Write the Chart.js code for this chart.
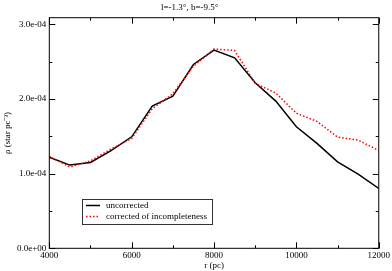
<!DOCTYPE html>
<html>
<head>
<meta charset="utf-8">
<script src="https://cdn.jsdelivr.net/npm/chart.js@4/dist/chart.umd.min.js"></script>
<style>
    html, body { margin: 0; padding: 0; background: #fff; }
    #wrap { width: 392px; height: 271px; }
</style>
</head>
<body>
<div id="wrap"><canvas id="densityChart" width="392" height="271"></canvas></div>
<script>
// distance along line of sight (pc)
const radius = [4000, 4500, 5000, 5500, 6000, 6500, 7000, 7500, 8000, 8500, 9000, 9500, 10000, 10500, 11000, 11500, 12000];
const uncorrected = [1.22e-4, 1.115e-4, 1.15e-4, 1.31e-4, 1.494e-4, 1.905e-4, 2.04e-4, 2.463e-4, 2.655e-4, 2.552e-4, 2.217e-4, 1.972e-4, 1.628e-4, 1.406e-4, 1.159e-4, 0.995e-4, 0.803e-4];
const corrected = [1.23e-4, 1.09e-4, 1.17e-4, 1.33e-4, 1.47e-4, 1.87e-4, 2.07e-4, 2.44e-4, 2.67e-4, 2.65e-4, 2.21e-4, 2.08e-4, 1.81e-4, 1.70e-4, 1.49e-4, 1.45e-4, 1.31e-4];

const xTicks = [4000, 6000, 8000, 10000, 12000];
const xMinorTicks = [5000, 7000, 9000, 11000];
const yTicks = [0, 1e-4, 2e-4, 3e-4];
const yMinorTicks = [0.5e-4, 1.5e-4, 2.5e-4];

const serif = "'Liberation Serif', 'Times New Roman', serif";

function sciLabel(v) {
    if (v === 0) return '0.0e+00';
    const exp = Math.floor(Math.log10(Math.abs(v)) + 1e-9);
    const mant = v / Math.pow(10, exp);
    const sign = exp < 0 ? '-' : '+';
    const e = String(Math.abs(exp)).padStart(2, '0');
    return mant.toFixed(1) + 'e' + sign + e;
}

// frame, inward ticks and the boxed legend
const framePlugin = {
    id: 'frame',
    afterDraw(chart) {
        const ctx = chart.ctx;
        const a = chart.chartArea;
        const xs = chart.scales.x, ys = chart.scales.y;
        ctx.save();
        ctx.strokeStyle = '#000';
        ctx.lineWidth = 1;
        ctx.strokeRect(a.left, a.top, a.right - a.left, a.bottom - a.top);
        ctx.beginPath();
        const tickX = (vals, len) => vals.forEach(v => {
            const px = Math.round(xs.getPixelForValue(v)) + 0.5;
            ctx.moveTo(px, a.bottom); ctx.lineTo(px, a.bottom - len);
            ctx.moveTo(px, a.top); ctx.lineTo(px, a.top + len);
        });
        const tickY = (vals, len) => vals.forEach(v => {
            const py = Math.round(ys.getPixelForValue(v)) + 0.5;
            ctx.moveTo(a.left, py); ctx.lineTo(a.left + len, py);
            ctx.moveTo(a.right, py); ctx.lineTo(a.right - len, py);
        });
        tickX(xTicks, 6); tickX(xMinorTicks, 3);
        tickY(yTicks, 6); tickY(yMinorTicks, 3);
        ctx.stroke();

        // legend
        const bx = 82.5, by = 199.5, bw = 130, bh = 25;
        ctx.fillStyle = '#fff';
        ctx.fillRect(bx, by, bw, bh);
        ctx.strokeStyle = '#333';
        ctx.strokeRect(bx, by, bw, bh);
        ctx.font = '9px ' + serif;
        ctx.textBaseline = 'middle';
        ctx.fillStyle = '#000';
        const rows = [
            { y: 205.5, color: '#000', dash: [], label: 'uncorrected' },
            { y: 216.5, color: '#ff0000', dash: [1.5, 2], label: 'corrected of incompleteness' }
        ];
        rows.forEach(r => {
            ctx.beginPath();
            ctx.strokeStyle = r.color;
            ctx.lineWidth = 1.5;
            ctx.setLineDash(r.dash);
            ctx.moveTo(86, r.y); ctx.lineTo(100, r.y);
            ctx.stroke();
            ctx.setLineDash([]);
            ctx.fillText(r.label, 106, r.y);
        });
        ctx.restore();
    }
};

const ctx = document.getElementById('densityChart').getContext('2d');
new Chart(ctx, {
    type: 'line',
    data: {
        labels: radius,
        datasets: [{
            label: 'corrected of incompleteness',
            data: radius.map((r, i) => ({ x: r, y: corrected[i] })),
            borderColor: '#ff0000',
            borderWidth: 1.5,
            borderDash: [1.5, 2],
            pointRadius: 0,
            tension: 0,
            fill: false
        }, {
            label: 'uncorrected',
            data: radius.map((r, i) => ({ x: r, y: uncorrected[i] })),
            borderColor: '#000',
            borderWidth: 1.5,
            pointRadius: 0,
            tension: 0,
            fill: false
        }]
    },
    options: {
        responsive: false,
        animation: false,
        layout: {
            padding: { left: 0, right: 12.7, top: 0, bottom: 0 }
        },
        plugins: {
            legend: { display: false },
            tooltip: { enabled: false },
            title: {
                display: true,
                text: 'l=-1.3°, b=-9.5°',
                color: '#000',
                font: { family: serif, size: 9, weight: 'normal', lineHeight: 1.2 },
                padding: { top: 2, bottom: 4.9 }
            }
        },
        scales: {
            x: {
                type: 'linear',
                min: 4000,
                max: 12000,
                afterBuildTicks: s => { s.ticks = xTicks.map(v => ({ value: v })); },
                afterFit: s => { s.height = 22.7; },
                grid: { display: false, drawTicks: false },
                border: { display: false },
                ticks: {
                    color: '#000',
                    padding: 2,
                    maxRotation: 0,
                    autoSkip: false,
                    font: { family: serif, size: 9 },
                    callback: v => String(v)
                },
                title: {
                    display: true,
                    text: 'r (pc)',
                    color: '#000',
                    padding: { top: 0, bottom: 0 },
                    font: { family: serif, size: 9 }
                }
            },
            y: {
                min: 0,
                max: 3.09e-4,
                afterBuildTicks: s => { s.ticks = yTicks.map(v => ({ value: v })); },
                afterFit: s => { s.width = 49.3; },
                grid: { display: false, drawTicks: false },
                border: { display: false },
                ticks: {
                    color: '#000',
                    padding: 3,
                    autoSkip: false,
                    font: { family: serif, size: 9 },
                    callback: v => sciLabel(v)
                },
                title: {
                    display: true,
                    text: 'ρ (star pc⁻³)',
                    color: '#000',
                    padding: { top: 2, bottom: 0 },
                    font: { family: serif, size: 9 }
                }
            }
        }
    },
    plugins: [framePlugin]
});
</script>
</body>
</html>
